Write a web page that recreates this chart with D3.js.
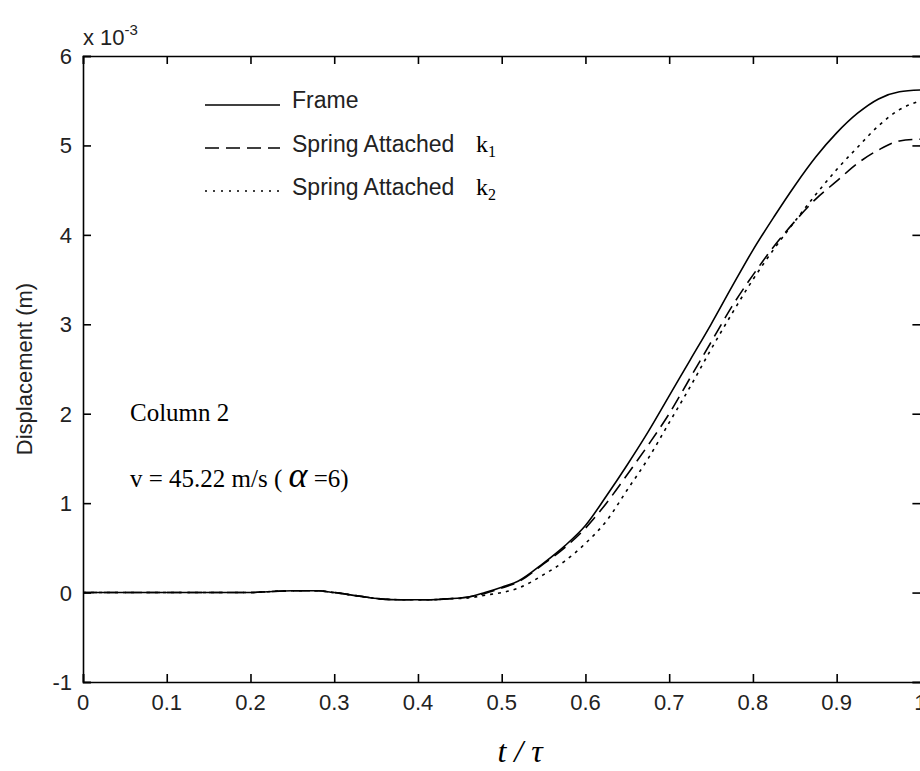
<!DOCTYPE html>
<html>
<head>
<meta charset="utf-8">
<script src="https://cdn.jsdelivr.net/npm/d3@7"></script>
<style>
  body { margin: 0; background: #fff; overflow: hidden; }
  svg { display: block; }
  .tick-label { font-family: "Liberation Sans", Arial, sans-serif; font-size: 22px; fill: #222; }
  .legend-text { font-family: "Liberation Sans", Arial, sans-serif; font-size: 23px; fill: #222; }
  .serif { font-family: "Liberation Serif", "Times New Roman", serif; fill: #000; }
</style>
</head>
<body>
<div id="chart"></div>
<script>
// time fraction t / tau
const tVals = [0, 0.05, 0.1, 0.15, 0.2, 0.22, 0.25, 0.28, 0.3, 0.33, 0.355, 0.38, 0.415, 0.435, 0.46, 0.48,
  0.5, 0.52, 0.55, 0.575, 0.6, 0.625, 0.65, 0.675, 0.7, 0.725, 0.75, 0.775, 0.8, 0.825, 0.85, 0.875,
  0.9, 0.925, 0.95, 0.975, 1.0]

// displacement in units of 1e-3 m
const frameVals = [0, 0, 0, 0, 0, 0.01, 0.02, 0.02, 0, -0.04, -0.07, -0.08, -0.08, -0.07, -0.05, 0,
  0.06, 0.13, 0.33, 0.52, 0.75, 1.08, 1.43, 1.8, 2.2, 2.6, 3.0, 3.42, 3.83, 4.2, 4.55, 4.87,
  5.14, 5.36, 5.52, 5.6, 5.62]
const k1Vals = [0, 0, 0, 0, 0, 0.01, 0.02, 0.02, 0, -0.04, -0.07, -0.08, -0.08, -0.07, -0.05, -0.01,
  0.05, 0.12, 0.32, 0.5, 0.72, 1.0, 1.32, 1.65, 2.0, 2.4, 2.8, 3.2, 3.55, 3.87, 4.15, 4.4,
  4.6, 4.8, 4.95, 5.05, 5.07]
const k2Vals = [0, 0, 0, 0, 0, 0.01, 0.02, 0.02, 0, -0.04, -0.07, -0.08, -0.08, -0.07, -0.06, -0.03,
  0.0, 0.05, 0.2, 0.35, 0.55, 0.8, 1.15, 1.5, 1.9, 2.3, 2.72, 3.12, 3.5, 3.84, 4.15, 4.45,
  4.73, 4.98, 5.22, 5.4, 5.5]

const xTicks = [0, 0.1, 0.2, 0.3, 0.4, 0.5, 0.6, 0.7, 0.8, 0.9, 1]
const yTicks = [-1, 0, 1, 2, 3, 4, 5, 6]

const width = 920, height = 771
const margin = {left: 83, top: 56, right: -0.4, bottom: 89}

const svg = d3.select('#chart').append('svg')
  .attr('width', width)
  .attr('height', height)

const xScale = d3.scaleLinear().domain([0, 1]).range([margin.left, width - margin.right])
const yScale = d3.scaleLinear().domain([-1, 6]).range([height - margin.bottom, margin.top])

const x0 = xScale(0), x1 = xScale(1), yTop = yScale(6), yBot = yScale(-1)

// curves
const line = d3.line()
  .curve(d3.curveMonotoneX)
  .x((d, i) => xScale(tVals[i]))
  .y(d => yScale(d))

svg.append('path').attr('d', line(frameVals))
  .attr('fill', 'none').attr('stroke', '#000').attr('stroke-width', 1.6)
svg.append('path').attr('d', line(k1Vals))
  .attr('fill', 'none').attr('stroke', '#000').attr('stroke-width', 1.6)
  .attr('stroke-dasharray', '14,7')
svg.append('path').attr('d', line(k2Vals))
  .attr('fill', 'none').attr('stroke', '#000').attr('stroke-width', 1.6)
  .attr('stroke-dasharray', '3,5')

// axes box with inward ticks
svg.append('g')
  .attr('transform', `translate(0,${yBot})`)
  .call(d3.axisBottom(xScale).tickValues(xTicks).tickSize(-8).tickFormat(''))
svg.append('g')
  .attr('transform', `translate(0,${yTop})`)
  .call(d3.axisTop(xScale).tickValues(xTicks).tickSize(-8).tickFormat(''))
svg.append('g')
  .attr('transform', `translate(${x0},0)`)
  .call(d3.axisLeft(yScale).tickValues(yTicks).tickSize(-8).tickFormat(''))
svg.append('g')
  .attr('transform', `translate(${x1},0)`)
  .call(d3.axisRight(yScale).tickValues(yTicks).tickSize(-8).tickFormat(''))

svg.selectAll('.domain').attr('stroke', '#000').attr('stroke-width', 1.6)
svg.selectAll('.tick line').attr('stroke', '#000').attr('stroke-width', 1.6)

// tick labels
svg.selectAll('.xlab')
  .data(xTicks)
  .enter()
  .append('text')
  .attr('class', 'tick-label')
  .attr('x', d => xScale(d))
  .attr('y', yBot + 28)
  .attr('text-anchor', 'middle')
  .text(d => d)

svg.selectAll('.ylab')
  .data(yTicks)
  .enter()
  .append('text')
  .attr('class', 'tick-label')
  .attr('x', x0 - 11)
  .attr('y', d => yScale(d) + 8)
  .attr('text-anchor', 'end')
  .text(d => d)

// exponent
const expo = svg.append('text').attr('class', 'tick-label').attr('x', x0).attr('y', 45)
expo.append('tspan').text('x 10')
expo.append('tspan').attr('dy', -10).attr('font-size', 15).text('-3')

// y label
svg.append('text')
  .attr('class', 'tick-label')
  .attr('transform', `translate(32,${(yTop + yBot) / 2}) rotate(-90)`)
  .attr('text-anchor', 'middle')
  .text('Displacement (m)')

// x label
svg.append('text').attr('class', 'serif')
  .attr('x', 520).attr('y', 762)
  .attr('text-anchor', 'middle')
  .attr('font-size', 32).attr('font-style', 'italic')
  .text('t / τ')

// legend
const legend = [
  {name: 'Frame', dash: null, sub: null},
  {name: 'Spring Attached', dash: '14,7', sub: '1'},
  {name: 'Spring Attached', dash: '2,6', sub: '2'}
]
const legY = [105, 148, 191]

legend.forEach((d, i) => {
  svg.append('line')
    .attr('x1', 205).attr('x2', 280)
    .attr('y1', legY[i]).attr('y2', legY[i])
    .attr('stroke', '#000').attr('stroke-width', 1.6)
    .attr('stroke-dasharray', d.dash)
  svg.append('text').attr('class', 'legend-text')
    .attr('x', 292).attr('y', legY[i] + 3 + (i == 0 ? 0 : 1))
    .text(d.name)
  if (d.sub) {
    const k = svg.append('text').attr('class', 'serif')
      .attr('x', 476).attr('y', legY[i] + 4)
      .attr('font-size', 24)
    k.append('tspan').text('k')
    k.append('tspan').attr('dy', 5).attr('font-size', 16).text(d.sub)
  }
})

// annotations
svg.append('text').attr('class', 'serif')
  .attr('x', 130).attr('y', 421).attr('font-size', 25)
  .text('Column 2')

const ann = svg.append('text').attr('class', 'serif')
  .attr('x', 130).attr('y', 487).attr('font-size', 25)
ann.append('tspan').text('v = 45.22 m/s ( ')
ann.append('tspan').attr('font-style', 'italic').attr('font-size', 36).text('α')
ann.append('tspan').text(' =6)')
</script>
</body>
</html>
